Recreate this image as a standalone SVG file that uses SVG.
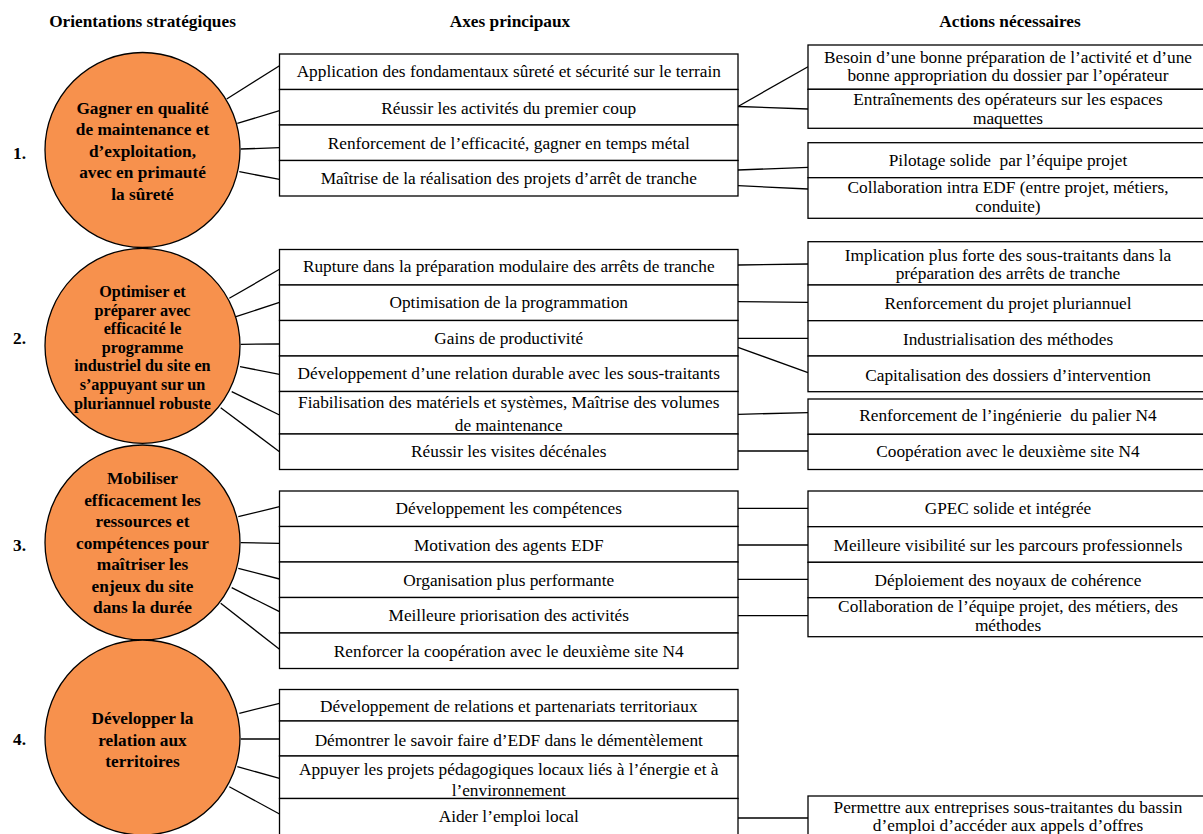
<svg xmlns="http://www.w3.org/2000/svg" width="1203" height="834" viewBox="0 0 1203 834">
<style>
.bx{fill:#fff;stroke:#000;stroke-width:1.3}
.cir{fill:#F7914D;stroke:#000;stroke-width:1.3}
.ln{stroke:#000;stroke-width:1.3;fill:none}
.m{font-family:"Liberation Serif","Times New Roman",serif;font-size:17.3px;fill:#000;text-anchor:middle}
.r{font-family:"Liberation Serif","Times New Roman",serif;font-size:17.3px;fill:#000;text-anchor:middle;white-space:pre}
.c{font-family:"Liberation Serif","Times New Roman",serif;font-size:17.3px;font-weight:bold;fill:#000;text-anchor:middle}
.c2{font-family:"Liberation Serif","Times New Roman",serif;font-size:16.2px;font-weight:bold;fill:#000;text-anchor:middle}
.n{font-family:"Liberation Serif","Times New Roman",serif;font-size:17.3px;font-weight:bold;fill:#000}
.h{font-family:"Liberation Serif","Times New Roman",serif;font-size:17.3px;font-weight:bold;fill:#000;text-anchor:middle}
</style>
<rect width="1203" height="834" fill="#fff"/>
<g id="headers">
<text class="h" x="142.5" y="27">Orientations stratégiques</text>
<text class="h" x="510" y="27">Axes principaux</text>
<text class="h" x="1010" y="27">Actions nécessaires</text>
</g>
<g id="connectors">
<line class="ln" x1="226.7" y1="99" x2="279.5" y2="65.7"/>
<line class="ln" x1="237.3" y1="123.3" x2="279.5" y2="110.7"/>
<line class="ln" x1="240.7" y1="149" x2="279.5" y2="147.7"/>
<line class="ln" x1="239.3" y1="171.7" x2="279.5" y2="179.3"/>
<line class="ln" x1="229.3" y1="298.3" x2="279.5" y2="269.3"/>
<line class="ln" x1="236" y1="316.7" x2="279.5" y2="302.3"/>
<line class="ln" x1="240.7" y1="344.3" x2="279.5" y2="344"/>
<line class="ln" x1="240" y1="366.7" x2="279.5" y2="374.3"/>
<line class="ln" x1="231.7" y1="391.7" x2="279.5" y2="415"/>
<line class="ln" x1="220.7" y1="407.7" x2="279.5" y2="451.7"/>
<line class="ln" x1="238.3" y1="516.7" x2="279.5" y2="506.7"/>
<line class="ln" x1="240.7" y1="542.7" x2="279.5" y2="543.3"/>
<line class="ln" x1="238.3" y1="568.3" x2="279.5" y2="579"/>
<line class="ln" x1="231.7" y1="587.7" x2="279.5" y2="611.7"/>
<line class="ln" x1="220.7" y1="603.3" x2="279.5" y2="649.3"/>
<line class="ln" x1="239.3" y1="713.3" x2="279.5" y2="703.3"/>
<line class="ln" x1="240.7" y1="739" x2="279.5" y2="739"/>
<line class="ln" x1="237.3" y1="766.7" x2="279.5" y2="778.3"/>
<line class="ln" x1="229.3" y1="786.7" x2="279.5" y2="814"/>
<line class="ln" x1="738" y1="106.5" x2="808" y2="66.7"/>
<line class="ln" x1="738" y1="106.5" x2="808" y2="109"/>
<line class="ln" x1="738" y1="170" x2="808" y2="167.3"/>
<line class="ln" x1="738" y1="185.7" x2="808" y2="189"/>
<line class="ln" x1="738" y1="265" x2="808" y2="264"/>
<line class="ln" x1="738" y1="301.7" x2="808" y2="302.3"/>
<line class="ln" x1="738" y1="338.3" x2="808" y2="338.3"/>
<line class="ln" x1="738" y1="347.3" x2="808" y2="372.7"/>
<line class="ln" x1="738" y1="414.3" x2="808" y2="412.7"/>
<line class="ln" x1="738" y1="451" x2="808" y2="451"/>
<line class="ln" x1="738" y1="508.3" x2="808" y2="508.3"/>
<line class="ln" x1="738" y1="545" x2="808" y2="545"/>
<line class="ln" x1="738" y1="579.3" x2="808" y2="579.3"/>
<line class="ln" x1="738" y1="615.7" x2="808" y2="615.7"/>
<line class="ln" x1="738" y1="818" x2="808" y2="818"/>
</g>
<g id="orientation1">
<circle class="cir" cx="142.5" cy="150" r="97.5"/>
<text class="n" x="13" y="159">1.</text>
<text class="c" x="142.5" y="113.5">Gagner en qualité</text>
<text class="c" x="142.5" y="135">de maintenance et</text>
<text class="c" x="142.5" y="156.5">d’exploitation,</text>
<text class="c" x="142.5" y="178">avec en primauté</text>
<text class="c" x="142.5" y="199.5">la sûreté</text>
</g>
<g id="orientation2">
<circle class="cir" cx="142.5" cy="345.8" r="97.5"/>
<text class="n" x="13" y="344">2.</text>
<text class="c2" x="142.5" y="297">Optimiser et</text>
<text class="c2" x="142.5" y="315.6">préparer avec</text>
<text class="c2" x="142.5" y="334.2">efficacité le</text>
<text class="c2" x="142.5" y="352.8">programme</text>
<text class="c2" x="142.5" y="371.4">industriel du site en</text>
<text class="c2" x="142.5" y="390">s’appuyant sur un</text>
<text class="c2" x="142.5" y="408.6">pluriannuel robuste</text>
</g>
<g id="orientation3">
<circle class="cir" cx="142.5" cy="542.5" r="97.5"/>
<text class="n" x="13" y="550.5">3.</text>
<text class="c" x="142.5" y="484">Mobiliser</text>
<text class="c" x="142.5" y="505.5">efficacement les</text>
<text class="c" x="142.5" y="527">ressources et</text>
<text class="c" x="142.5" y="548.5">compétences pour</text>
<text class="c" x="142.5" y="570">maîtriser les</text>
<text class="c" x="142.5" y="591.5">enjeux du site</text>
<text class="c" x="142.5" y="613">dans la durée</text>
</g>
<g id="orientation4">
<circle class="cir" cx="142.5" cy="737.5" r="97.5"/>
<text class="n" x="13" y="744.5">4.</text>
<text class="c" x="142.5" y="724">Développer la</text>
<text class="c" x="142.5" y="745.5">relation aux</text>
<text class="c" x="142.5" y="766.5">territoires</text>
</g>
<g id="axes1">
<rect class="bx" x="279.5" y="54" width="458.5" height="35.5"/>
<rect class="bx" x="279.5" y="89.5" width="458.5" height="35.5"/>
<rect class="bx" x="279.5" y="125" width="458.5" height="35.5"/>
<rect class="bx" x="279.5" y="160.5" width="458.5" height="35.5"/>
<text class="m" x="508.75" y="77">Application des fondamentaux sûreté et sécurité sur le terrain</text>
<text class="m" x="508.75" y="113.5">Réussir les activités du premier coup</text>
<text class="m" x="508.75" y="148.5">Renforcement de l’efficacité, gagner en temps métal</text>
<text class="m" x="508.75" y="184">Maîtrise de la réalisation des projets d’arrêt de tranche</text>
</g>
<g id="axes2">
<rect class="bx" x="279.5" y="249.5" width="458.5" height="35.5"/>
<rect class="bx" x="279.5" y="285" width="458.5" height="35.5"/>
<rect class="bx" x="279.5" y="320.5" width="458.5" height="35.5"/>
<rect class="bx" x="279.5" y="356" width="458.5" height="35.5"/>
<rect class="bx" x="279.5" y="391.5" width="458.5" height="42.5"/>
<rect class="bx" x="279.5" y="434" width="458.5" height="35.5"/>
<text class="m" x="508.75" y="272">Rupture dans la préparation modulaire des arrêts de tranche</text>
<text class="m" x="508.75" y="308">Optimisation de la programmation</text>
<text class="m" x="508.75" y="344">Gains de productivité</text>
<text class="m" x="508.75" y="379">Développement d’une relation durable avec les sous-traitants</text>
<text class="m" x="508.75" y="408">Fiabilisation des matériels et systèmes, Maîtrise des volumes</text>
<text class="m" x="508.75" y="430.5">de maintenance</text>
<text class="m" x="508.75" y="457">Réussir les visites décénales</text>
</g>
<g id="axes3">
<rect class="bx" x="279.5" y="491" width="458.5" height="35.5"/>
<rect class="bx" x="279.5" y="526.5" width="458.5" height="35.5"/>
<rect class="bx" x="279.5" y="562" width="458.5" height="35.5"/>
<rect class="bx" x="279.5" y="597.5" width="458.5" height="35.5"/>
<rect class="bx" x="279.5" y="633" width="458.5" height="35.5"/>
<text class="m" x="508.75" y="514">Développement les compétences</text>
<text class="m" x="508.75" y="550.5">Motivation des agents EDF</text>
<text class="m" x="508.75" y="585.5">Organisation plus performante</text>
<text class="m" x="508.75" y="621">Meilleure priorisation des activités</text>
<text class="m" x="508.75" y="657">Renforcer la coopération avec le deuxième site N4</text>
</g>
<g id="axes4">
<rect class="bx" x="279.5" y="689.5" width="458.5" height="31.5"/>
<rect class="bx" x="279.5" y="721" width="458.5" height="35"/>
<rect class="bx" x="279.5" y="756" width="458.5" height="42.5"/>
<rect class="bx" x="279.5" y="798.5" width="458.5" height="50"/>
<text class="m" x="508.75" y="712">Développement de relations et partenariats territoriaux</text>
<text class="m" x="508.75" y="745.5">Démontrer le savoir faire d’EDF dans le démentèlement</text>
<text class="m" x="508.75" y="775">Appuyer les projets pédagogiques locaux liés à l’énergie et à</text>
<text class="m" x="508.75" y="795.5">l’environnement</text>
<text class="m" x="508.75" y="822">Aider l’emploi local</text>
</g>
<g id="actions1">
<rect class="bx" x="808" y="45" width="400" height="44.3"/>
<rect class="bx" x="808" y="89.3" width="400" height="39"/>
<rect class="bx" x="808" y="142.7" width="400" height="35"/>
<rect class="bx" x="808" y="177.7" width="400" height="40.6"/>
<text class="r" x="1008" y="62.5">Besoin d’une bonne préparation de l’activité et d’une</text>
<text class="r" x="1008" y="81">bonne appropriation du dossier par l’opérateur</text>
<text class="r" x="1008" y="104.5">Entraînements des opérateurs sur les espaces</text>
<text class="r" x="1008" y="124">maquettes</text>
<text class="r" x="1008" y="165.5" xml:space="preserve">Pilotage solide  par l’équipe projet</text>
<text class="r" x="1008" y="192.5">Collaboration intra EDF (entre projet, métiers,</text>
<text class="r" x="1008" y="211.5">conduite)</text>
</g>
<g id="actions2">
<rect class="bx" x="808" y="241.7" width="400" height="43.3"/>
<rect class="bx" x="808" y="285" width="400" height="35.7"/>
<rect class="bx" x="808" y="320.7" width="400" height="35.3"/>
<rect class="bx" x="808" y="356" width="400" height="35.7"/>
<rect class="bx" x="808" y="399" width="400" height="35.3"/>
<rect class="bx" x="808" y="434.3" width="400" height="35.2"/>
<text class="r" x="1008" y="260.5">Implication plus forte des sous-traitants dans la</text>
<text class="r" x="1008" y="279">préparation des arrêts de tranche</text>
<text class="r" x="1008" y="309">Renforcement du projet pluriannuel</text>
<text class="r" x="1008" y="345">Industrialisation des méthodes</text>
<text class="r" x="1008" y="380.5">Capitalisation des dossiers d’intervention</text>
<text class="r" x="1008" y="420.5" xml:space="preserve">Renforcement de l’ingénierie  du palier N4</text>
<text class="r" x="1008" y="457">Coopération avec le deuxième site N4</text>
</g>
<g id="actions3">
<rect class="bx" x="808" y="491" width="400" height="35.7"/>
<rect class="bx" x="808" y="526.7" width="400" height="35.6"/>
<rect class="bx" x="808" y="562.3" width="400" height="35.4"/>
<rect class="bx" x="808" y="597.7" width="400" height="39"/>
<text class="r" x="1008" y="514">GPEC solide et intégrée</text>
<text class="r" x="1008" y="550.5">Meilleure visibilité sur les parcours professionnels</text>
<text class="r" x="1008" y="585.5">Déploiement des noyaux de cohérence</text>
<text class="r" x="1008" y="612">Collaboration de l’équipe projet, des métiers, des</text>
<text class="r" x="1008" y="631">méthodes</text>
</g>
<g id="actions4">
<rect class="bx" x="808" y="796" width="400" height="60"/>
<text class="r" x="1008" y="812.5">Permettre aux entreprises sous-traitantes du bassin</text>
<text class="r" x="1008" y="831">d’emploi d’accéder aux appels d’offres</text>
</g>
</svg>
